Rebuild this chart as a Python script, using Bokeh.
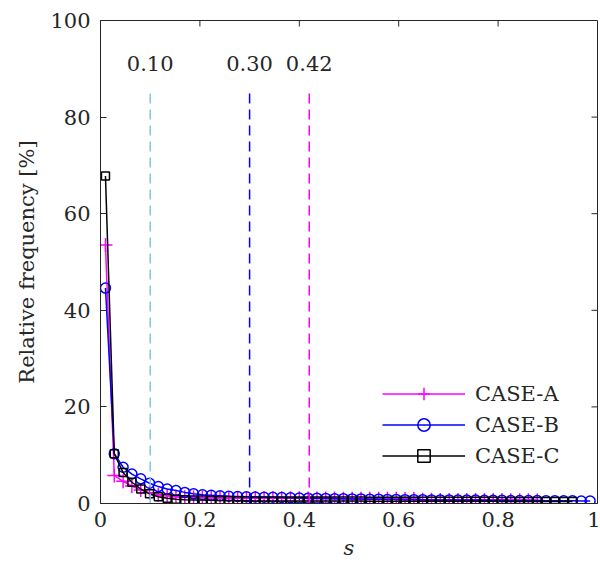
import numpy as np
from bokeh.plotting import figure
from bokeh.models import Range1d, FixedTicker, Legend, LegendItem, ColumnDataSource
from bokeh.core.properties import value
from bokeh.embed import file_html
from bokeh.resources import INLINE

# ---- data ----
step = 0.01773
case_a = [53.5, 5.8, 4.6, 3.6, 2.8, 2.2, 1.8, 1.6, 1.4, 1.3,
          1.25, 1.2, 1.2, 1.15, 1.15, 1.1, 1.1, 1.1, 1.1, 1.1,
          1.1, 1.1, 1.1, 1.05, 1.05, 1.05, 1.05, 1.0, 1.0, 1.0,
          1.0, 1.0, 1.0, 1.0, 0.95, 0.95, 0.8, 0.8, 0.75, 0.75,
          0.75, 0.7, 0.7, 0.7, 0.7, 0.7, 0.65, 0.65, 0.65, 0.6]
case_b = [44.6, 10.3, 7.5, 6.1, 5.1, 4.2, 3.5, 3.0, 2.7, 2.3,
          2.0, 1.8, 1.7, 1.6, 1.5, 1.45, 1.4, 1.35, 1.3, 1.3,
          1.25, 1.2, 1.15, 1.1, 1.1, 1.05, 1.0, 1.0, 0.95, 0.95,
          0.9, 0.9, 0.85, 0.85, 0.8, 0.8, 0.8, 0.75, 0.75, 0.75,
          0.7, 0.7, 0.7, 0.65, 0.65, 0.65, 0.6, 0.6, 0.6, 0.6,
          0.55, 0.55, 0.55, 0.55, 0.5, 0.5]
case_c = [67.8, 10.3, 6.4, 4.4, 3.0, 2.0, 1.4, 1.1, 0.9, 0.8,
          0.75, 0.7, 0.65, 0.6, 0.6, 0.55, 0.55, 0.5, 0.5, 0.5,
          0.5, 0.5, 0.5, 0.5, 0.5, 0.5, 0.5, 0.5, 0.5, 0.5,
          0.45, 0.45, 0.45, 0.45, 0.45, 0.45, 0.45, 0.45, 0.45, 0.45,
          0.45, 0.45, 0.45, 0.45, 0.45, 0.4, 0.4, 0.4, 0.4, 0.4,
          0.4, 0.4, 0.4, 0.4]
s_a = [0.01 + step * i for i in range(len(case_a))]
s_b = [0.01 + step * i for i in range(len(case_b))]
s_c = [0.01 + step * i for i in range(len(case_c))]

thresholds = [0.10, 0.30, 0.42]
threshold_labels = ["0.10", "0.30", "0.42"]
threshold_top = 85
label_y = 91.2

x_ticks = [0, 0.2, 0.4, 0.6, 0.8, 1.0]
x_tick_labels = ["0", "0.2", "0.4", "0.6", "0.8", "1"]
y_ticks = [0, 20, 40, 60, 80, 100]
y_tick_labels = ["0", "20", "40", "60", "80", "100"]

FONT = "DejaVu Serif"
FS = "21px"
AXC = "#262626"

p = figure(width=600, height=577, output_backend="svg", toolbar_location=None,
           x_range=Range1d(0, 1), y_range=Range1d(0, 100),
           min_border_left=100, min_border_right=3, min_border_top=20, min_border_bottom=74)
p.grid.visible = False
p.outline_line_color = AXC
p.outline_line_width = 1
p.background_fill_color = "white"

for ax, ticks, labels in [(p.xaxis[0], x_ticks, x_tick_labels), (p.yaxis[0], y_ticks, y_tick_labels)]:
    ax.ticker = FixedTicker(ticks=ticks)
    ax.major_label_overrides = {t: l for t, l in zip(ticks, labels)}
    ax.major_tick_in = 6
    ax.major_tick_out = 0
    ax.minor_tick_in = 0
    ax.minor_tick_out = 0
    ax.axis_line_color = AXC
    ax.major_tick_line_color = AXC
    ax.major_label_text_font = FONT
    ax.major_label_text_font_size = FS
    ax.major_label_text_color = AXC
    ax.axis_label_text_font = FONT
    ax.axis_label_text_font_size = FS
    ax.axis_label_text_color = AXC

p.xaxis[0].major_label_standoff = 8
p.yaxis[0].major_label_standoff = 10
p.xaxis[0].axis_label = "s"
p.xaxis[0].axis_label_text_font_style = "italic"
p.xaxis[0].axis_label_standoff = 6
p.yaxis[0].axis_label = "Relative frequency [%]"
p.yaxis[0].axis_label_text_font_style = "normal"
p.yaxis[0].axis_label_standoff = 8

# inward ticks on the top and right edges of the box
tick_len_y = 6 / 483 * 100
tick_len_x = 6 / 497
p.segment(x0=x_ticks, y0=[100] * len(x_ticks), x1=x_ticks, y1=[100 - tick_len_y] * len(x_ticks),
          line_color=AXC, line_width=1)
p.segment(x0=[1] * len(y_ticks), y0=y_ticks, x1=[1 - tick_len_x] * len(y_ticks), y1=y_ticks,
          line_color=AXC, line_width=1)

lw = 1.5
la = p.line(s_a, case_a, line_color="#FF00FF", line_width=lw)
ma = p.scatter(s_a, case_a, marker="cross", size=14, line_color="#FF00FF", line_width=lw)
lb = p.line(s_b, case_b, line_color="#0000FF", line_width=lw)
mb = p.scatter(s_b, case_b, marker="circle", size=10, line_color="#0000FF", fill_color=None, line_width=lw)
lc = p.line(s_c, case_c, line_color="black", line_width=lw)
mc = p.scatter(s_c, case_c, marker="square", size=8, line_color="black", fill_color=None, line_width=lw)

thr_colors = ["#7EC8E3", "#0000FF", "#FF00FF"]
src = ColumnDataSource(dict(x=thresholds, y0=[0] * 3, y1=[threshold_top] * 3,
                            c=thr_colors, lab=threshold_labels, ly=[label_y] * 3))
p.segment(x0="x", y0="y0", x1="x", y1="y1", source=src, line_color="c",
          line_width=1.5, line_dash="10 6")
p.text(x="x", y="ly", text="lab", source=src, text_align="center", text_baseline="middle",
       text_font=value(FONT), text_font_size=FS, text_color=AXC)

legend = Legend(items=[LegendItem(label="CASE-A", renderers=[la, ma]),
                       LegendItem(label="CASE-B", renderers=[lb, mb]),
                       LegendItem(label="CASE-C", renderers=[lc, mc])],
                location=(282, 32))
legend.padding = 0
legend.margin = 0
legend.spacing = 0
legend.glyph_width = 83
legend.glyph_height = 31
legend.label_height = 31
legend.label_standoff = 10
legend.border_line_color = None
legend.background_fill_alpha = 0
legend.label_text_font = FONT
legend.label_text_font_size = FS
legend.label_text_color = AXC
p.add_layout(legend)

open("out.html", "w").write(file_html(p, INLINE))
